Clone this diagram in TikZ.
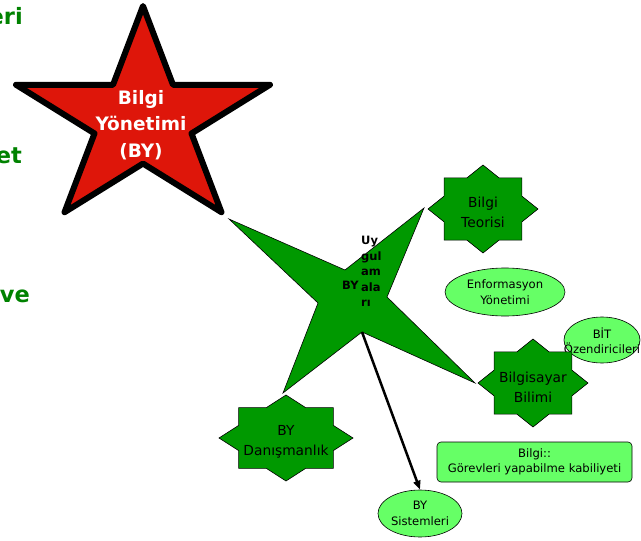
\documentclass[tikz,border=0pt]{standalone}
\usepackage{fontspec}
\setmainfont{DejaVu Sans}
\usetikzlibrary{shapes.geometric,arrows.meta}
\definecolor{starred}{RGB}{222,22,10}
\definecolor{dgreen}{RGB}{0,153,0}
\definecolor{lgreen}{RGB}{102,255,102}
\definecolor{tgreen}{RGB}{0,130,0}
\newcommand\octostar[4]{%
  \begin{scope}[shift={(#1,#2)}, x=#3pt, y=#4pt]
    \draw[octofill] (0:1) \foreach \i in {0,...,7}{ -- ({\i*45+22.5}:0.765) -- ({\i*45+45}:1)} -- cycle;
  \end{scope}}
\begin{document}
\begin{tikzpicture}[x=1pt,y=-1pt,
  octofill/.style={draw=black, line width=0.6pt, fill=dgreen, line join=miter},
  lell/.style={draw=black, line width=0.6pt, fill=lgreen},
  sidetxt/.style={font=\fontsize{22.5}{27}\selectfont\bfseries, text=tgreen, inner sep=0pt, anchor=base east},
  bigtxt/.style={font=\fontsize{18.5}{26.5}\selectfont\bfseries, text=white, align=center, inner sep=0pt},
  startxt/.style={font=\fontsize{13.8}{20}\selectfont, align=center, inner sep=0pt},
  smalltxt/.style={font=\fontsize{11.6}{15.5}\selectfont, align=center, inner sep=0pt},
  boldsmall/.style={font=\fontsize{11.5}{15.5}\selectfont\bfseries, inner sep=0pt},
  arr/.style={line width=2.5pt, -{Triangle[length=9pt,width=7pt]}}]
\useasboundingbox (0,0) rectangle (641,541);
\clip (0,0) rectangle (641,541);

% side texts (cut at left edge, as in the reference)
\node[sidetxt] (t1) at (23,24) {eri};
\node[sidetxt] (t2) at (22,163) {et};
\node[sidetxt] (t3) at (30,302) {ve};

% red star
\begin{scope}[shift={(143,120)}, x=133.5pt, y=114pt]
  \draw[fill=starred, draw=black, line width=6pt, line join=round]
    (90:1) \foreach \k in {0,...,4}{ -- ({126+72*\k}:0.382) -- ({162+72*\k}:1)} -- cycle;
\end{scope}
\node[bigtxt] (by) at (141,125) {Bilgi\\Yönetimi\\(BY)};

% green four-point star
\coordinate (gl) at (229,219);
\coordinate (gti) at (345,270);
\coordinate (gtr) at (424,208);
\coordinate (gri) at (387,297);
\coordinate (gbr) at (475,383);
\coordinate (gbot) at (362,332);
\coordinate (gbl) at (283,393);
\coordinate (gli) at (318,303);
\draw[fill=dgreen, draw=black, line width=0.6pt, line join=miter]
  (gl) -- (gti) -- (gtr) -- (gri) -- (gbr) -- (gbot) -- (gbl) -- (gli) -- cycle;
\node[boldsmall, anchor=base west] (bylbl) at (342,289) {BY};
\node[boldsmall, align=left, anchor=north west] (uyg) at (361,236) {Uy\\gul\\am\\ala\\rı};

% Bilgi Teorisi
\octostar{483}{209}{55}{44}
\node[startxt] (bt) at (483,212) {Bilgi\\Teorisi};

% Enformasyon Yonetimi
\node[lell, ellipse, minimum width=120pt, minimum height=48pt, inner sep=0pt, smalltxt] (ey) at (505,292) {Enformasyon\\Yönetimi};

% BIT Ozendiricileri
\draw[lell] (602,340) ellipse (38 and 23);
\node[smalltxt] (bit) at (602,341) {BİT\\Özendiricileri};

% Bilgisayar Bilimi
\octostar{533}{383}{55}{44}
\node[startxt] (bb) at (533,387) {Bilgisayar\\Bilimi};

% BY Danismanlik
\octostar{286}{438}{67}{43}
\node[startxt] (bd) at (286,442) {BY\\Danışmanlık};

% Bilgi box
\node[lell, rounded corners=4pt, minimum width=195pt, minimum height=40pt, inner sep=0pt, smalltxt] (bk) at (534.5,462) {Bilgi::\\Görevleri yapabilme kabiliyeti};

% BY Sistemleri
\node[lell, ellipse, minimum width=84pt, minimum height=47pt, inner sep=0pt, smalltxt] (bys) at (420,513.5) {BY\\Sistemleri};

\draw[arr] (gbot) -- (bys.north);
\end{tikzpicture}
\end{document}
